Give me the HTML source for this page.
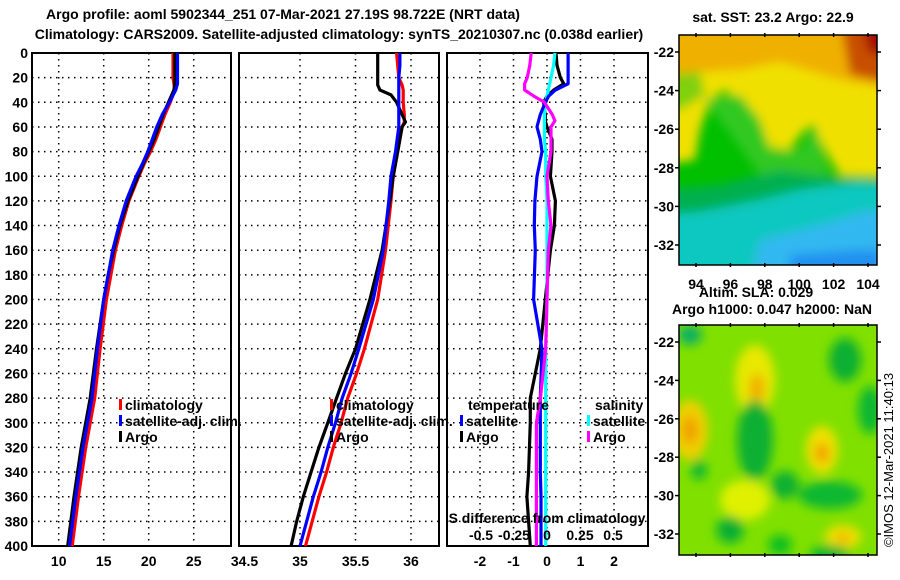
<!DOCTYPE html>
<html><head><meta charset="utf-8"><style>
body{margin:0;background:#fff;width:900px;height:580px;overflow:hidden}
svg{display:block;font-family:"Liberation Sans",sans-serif;font-weight:bold;font-size:14px}
</style></head><body>
<svg id="c" width="900" height="580">
<text x="283" y="19" text-anchor="middle">Argo profile: aoml 5902344_251 07-Mar-2021 27.19S 98.722E (NRT data)</text>
<text x="339" y="39" text-anchor="middle">Climatology: CARS2009. Satellite-adjusted climatology: synTS_20210307.nc (0.038d earlier)</text>
<g id="plots"></g>
<g id="maps"></g>
</svg>
<script>
const depthTicks=[0,20,40,60,80,100,120,140,160,180,200,220,240,260,280,300,320,340,360,380,400];
const tDepth=[0,10,20,25,30,40,50,60,70,80,90,100,120,140,160,180,200,240,280,300,320,360,400];
const tClim=[22.7,22.7,22.7,22.8,22.9,22.4,21.8,21.3,20.8,20.2,19.5,18.9,17.8,17.0,16.3,15.8,15.3,14.6,14.0,13.5,13.0,12.2,11.5];
const tSat=[23.2,23.2,23.2,23.2,23.0,22.3,21.5,20.9,20.4,19.9,19.3,18.6,17.5,16.7,16.0,15.5,15.0,14.3,13.7,13.2,12.7,11.9,11.2];
const tArgo=[22.9,22.9,22.9,22.9,22.8,22.2,21.6,21.1,20.6,20.0,19.4,18.8,17.7,16.8,16.1,15.5,15.0,14.2,13.5,13.0,12.5,11.7,11.0];
const sDepth=[0,10,20,26,30,34,40,50,56,60,80,100,120,160,200,240,260,280,300,320,340,360,380,400];
const sClim=[35.87,35.88,35.89,35.92,35.93,35.93,35.93,35.94,35.94,35.92,35.88,35.84,35.82,35.77,35.70,35.58,35.51,35.43,35.37,35.30,35.24,35.17,35.11,35.05];
const sSat=[35.90,35.90,35.89,35.89,35.89,35.89,35.89,35.89,35.89,35.89,35.86,35.82,35.80,35.75,35.66,35.53,35.46,35.38,35.32,35.25,35.19,35.12,35.06,35.00];
const sArgo=[35.70,35.70,35.70,35.70,35.72,35.82,35.87,35.92,35.95,35.92,35.88,35.84,35.81,35.74,35.63,35.50,35.41,35.33,35.25,35.17,35.10,35.03,34.97,34.92];
const dDepth=[0,10,20,25,30,35,40,50,55,60,70,80,100,120,140,160,200,240,280,300,340,360,400];
const dtSat=[0.63,0.63,0.63,0.63,0.25,0.05,-0.05,-0.2,-0.25,-0.3,-0.2,-0.15,-0.3,-0.36,-0.38,-0.35,-0.4,-0.15,-0.2,-0.2,-0.2,-0.18,-0.18];
const dtArgo=[0.27,0.3,0.4,0.5,0.2,0.0,-0.1,-0.05,-0.05,0.0,0.15,0.15,0.1,0.25,0.22,0.1,-0.05,-0.2,-0.5,-0.5,-0.55,-0.6,-0.5];
const dsArgo=[-0.12,-0.13,-0.15,-0.17,-0.17,-0.1,-0.02,0.04,0.06,0.03,0.03,0.03,0.0,0.01,0.03,0.01,0.0,-0.01,-0.05,-0.08,-0.08,-0.08,-0.08];
const dsSat=[0.06,0.05,0.03,0.02,0.01,0.0,-0.01,-0.02,-0.02,-0.02,-0.02,-0.01,-0.01,0.0,0.0,0.0,0.0,-0.01,-0.01,-0.01,-0.01,-0.01,-0.01];
const tTicks=[10,15,20,25];
const sTicks=[34.5,35,35.5,36];
const dtTicks=[-2,-1,0,1,2];
const dsTicks=[-0.5,-0.25,0,0.25,0.5];
const NS='http://www.w3.org/2000/svg';
const root=document.getElementById('plots');
function el(t,a,p){const e=document.createElementNS(NS,t);for(const k in a)e.setAttribute(k,a[k]);(p||root).appendChild(e);return e;}
const yD=d=>53+d*(493/400);
const panels=[
 {x0:32,x1:231,f:v=>58.7+(v-10)*9,grid:tTicks,name:'temperature-panel'},
 {x0:239,x1:439,f:v=>244.5+(v-34.5)*111,grid:[35,35.5,36],name:'salinity-panel'},
 {x0:447,x1:648,f:v=>547+v*33.5,grid:dtTicks,name:'difference-panel'}];
const fs=v=>547+v*132;
panels.forEach(p=>{
 const g=el('g',{});
 
 
 depthTicks.forEach(d=>{const l=el('line',{x1:p.x0,x2:p.x1,y1:yD(d),y2:yD(d),stroke:'#000','stroke-width':1.5,'stroke-dasharray':'1.5 4.5'},g);
  });
 p.grid.forEach(v=>{const l=el('line',{x1:p.f(v),x2:p.f(v),y1:53,y2:546,stroke:'#000','stroke-width':1.5,'stroke-dasharray':'1.5 4.5'},g);
  });
 const r=el('rect',{x:p.x0,y:53,width:p.x1-p.x0,height:493,fill:'none',stroke:'#000','stroke-width':2},g);
 
 p.g=g;
});
depthTicks.forEach(d=>{const t=el('text',{x:28,y:yD(d)+5,'text-anchor':'end'});t.textContent=d;
 });
function xlab(f,arr,y,name){arr.forEach(v=>{const t=el('text',{x:f(v),y:y,'text-anchor':'middle'});t.textContent=v;
 });}
xlab(panels[0].f,tTicks,566,'temperature-tick-label');
xlab(panels[1].f,sTicks,566,'salinity-tick-label');
xlab(panels[2].f,dtTicks,566,'temp-diff-tick-label');
xlab(fs,dsTicks,540,'sal-diff-tick-label');
function line(g,fx,vals,depths,col,name){
 const pts=vals.map((v,i)=>fx(v).toFixed(1)+','+yD(depths[i]).toFixed(1)).join(' ');
 const l=el('polyline',{points:pts,fill:'none',stroke:col,'stroke-width':3.2,'stroke-linejoin':'round'},g);
 }
line(panels[0].g,panels[0].f,tClim,tDepth,'#f00','temp-climatology-line');
line(panels[0].g,panels[0].f,tArgo,tDepth,'#000','temp-argo-line');
line(panels[0].g,panels[0].f,tSat,tDepth,'#00f','temp-satellite-adj-line');
line(panels[1].g,panels[1].f,sClim,sDepth,'#f00','sal-climatology-line');
line(panels[1].g,panels[1].f,sArgo,sDepth,'#000','sal-argo-line');
line(panels[1].g,panels[1].f,sSat,sDepth,'#00f','sal-satellite-adj-line');
line(panels[2].g,panels[2].f,dtArgo,dDepth,'#000','temp-diff-argo-line');
line(panels[2].g,fs,dsSat,dDepth,'#0ff','sal-diff-satellite-line');
line(panels[2].g,panels[2].f,dtSat,dDepth,'#00f','temp-diff-satellite-line');
line(panels[2].g,fs,dsArgo,dDepth,'#f0f','sal-diff-argo-line');
function leg(x,y,col,txt,name){const r=el('rect',{x:x,y:y-11,width:3,height:11,fill:col});
 
 const t=el('text',{x:x+6,y:y});t.textContent=txt;}
leg(119,410,'#f00','climatology','legend-climatology');
leg(119,426,'#00f','satellite-adj. clim.','legend-satellite-adj');
leg(119,442,'#000','Argo','legend-argo');
leg(330,410,'#f00','climatology','legend-climatology-s');
leg(330,426,'#00f','satellite-adj. clim.','legend-satellite-adj-s');
leg(330,442,'#000','Argo','legend-argo-s');
let t=el('text',{x:468,y:410});t.textContent='temperature';
t=el('text',{x:595,y:410});t.textContent='salinity';
leg(460,426,'#00f','satellite','legend-temp-satellite');
leg(460,442,'#000','Argo','legend-temp-argo');
leg(587,426,'#0ff','satellite','legend-sal-satellite');
leg(587,442,'#f0f','Argo','legend-sal-argo');
t=el('text',{x:547,y:523,'text-anchor':'middle'});t.textContent='S difference from climatology';

/* maps */
const M=document.getElementById('maps');
function mel(t,a,p){return el(t,a,p||M);}
const latTicks=[-22,-24,-26,-28,-30,-32];
const lonTicks=[94,96,98,100,102,104];
const defs=mel('defs',{});
const f=mel('filter',{id:'bl',x:'-20%',y:'-20%',width:'140%',height:'140%'},defs);mel('feGaussianBlur',{stdDeviation:5},f);
const f2=mel('filter',{id:'bl2',x:'-20%',y:'-20%',width:'140%',height:'140%'},defs);mel('feGaussianBlur',{stdDeviation:5},f2);
const c1=mel('clipPath',{id:'m1'},defs);mel('rect',{x:679,y:35,width:198,height:230},c1);
const c2=mel('clipPath',{id:'m2'},defs);mel('rect',{x:679,y:325,width:198,height:230},c2);
const sst=mel('g',{'clip-path':'url(#m1)'});
mel('rect',{x:679,y:35,width:198,height:230,fill:'#00c000'},sst);
const sb=mel('g',{filter:'url(#bl)'},sst);
[['polygon','660,20 900,20 900,178 840,176 825,150 812,125 800,135 790,150 770,148 755,125 740,105 725,90 710,100 700,130 695,160 660,165','#f0e000'],
 ['polygon','660,20 900,20 900,90 840,80 780,62 740,70 700,72 660,75','#f0b000'],
 ['polygon','840,20 900,20 900,85 850,75','#c85000'],
 ['polygon','860,20 900,20 900,60 868,52','#a81000'],
 ['polygon','705,100 740,95 760,120 770,150 800,150 815,125 822,150 830,178 760,175','#30c820'],
 ['polygon','660,75 700,72 705,95 680,110 660,110','#80d010'],
 ['polygon','660,190 720,185 780,170 840,178 900,180 900,210 820,215 760,205 700,215 660,215','#00b050'],
 ['polygon','660,215 700,212 760,200 800,190 860,182 900,185 900,280 660,280','#10c8c0'],
 ['polygon','760,240 820,225 870,210 900,220 900,280 750,280','#30b8f0'],
 ['polygon','790,255 860,250 880,250 880,280 790,280','#2090f0']
].forEach(([tp,v,c])=>mel('polygon',{points:v,fill:c},sb));
const sla=mel('g',{'clip-path':'url(#m2)'});
mel('rect',{x:679,y:325,width:198,height:230,fill:'#80e000'},sla);
const lb=mel('g',{filter:'url(#bl2)'},sla);
[[755,380,20,35,'#e8e800'],[757,388,8,14,'#f0b000'],[690,430,18,30,'#f0d000'],[690,430,8,14,'#f0a000'],[822,450,16,24,'#f0e000'],[822,453,7,10,'#f0a000'],[843,537,18,12,'#f0e000'],[843,538,7,5,'#f0b000'],[745,500,25,20,'#e0f000'],
 [755,440,18,40,'#10b030'],[785,485,14,14,'#10b030'],[845,360,16,22,'#10b030'],[870,410,12,24,'#10b830'],[830,495,32,14,'#10b830'],[730,530,14,14,'#10b830'],[699,470,8,10,'#10b830'],[780,545,12,10,'#10c020'],[830,555,20,10,'#10b830'],[690,335,12,10,'#10b060'],[730,530,8,6,'#10a830']
].forEach(a=>mel('ellipse',{cx:a[0],cy:a[1],rx:a[2],ry:a[3],fill:a[4]},lb));
[[35,-22,52,-32,245,'sst'],[325,-22,342,-32,534,'sla']].forEach(([y0,la0,py0,la1,py1,n])=>{
 mel('rect',{x:679,y:y0,width:198,height:230,fill:'none',stroke:'#000','stroke-width':1.5});
 latTicks.forEach(la=>{const y=py0+(la-la0)*(py1-py0)/(la1-la0);
  mel('line',{x1:877,x2:881,y1:y,y2:y,stroke:'#000','stroke-width':1.5});
  mel('line',{x1:675,x2:679,y1:y,y2:y,stroke:'#000','stroke-width':1.5});
  const tt=mel('text',{x:674,y:y+5,'text-anchor':'end'});tt.textContent=la;});
 lonTicks.forEach(lo=>{const x=696+(lo-94)*(868-696)/10;
  mel('line',{x1:x,x2:x,y1:y0-2,y2:y0+2,stroke:'#000','stroke-width':1.5});
  mel('line',{x1:x,x2:x,y1:y0+228,y2:y0+232,stroke:'#000','stroke-width':1.5});});
});
lonTicks.forEach(lo=>{const tt=mel('text',{x:696+(lo-94)*(868-696)/10,y:289,'text-anchor':'middle'});tt.textContent=lo;
 });
[['sat. SST: 23.2 Argo: 22.9',773,22,'sst-map-title'],['Altim. SLA: 0.029',756,297,'sla-map-title'],['Argo h1000: 0.047 h2000: NaN',772,314,'argo-height-title']].forEach(([s,x,y,n])=>{
 const tt=mel('text',{x:x,y:y,'text-anchor':'middle'});tt.textContent=s;});
const cp=mel('text',{x:893,y:460,'text-anchor':'middle',transform:'rotate(-90 893 460)','font-weight':'normal','font-size':'13'});
cp.textContent='©IMOS 12-Mar-2021 11:40:13';
</script>
</body></html>
